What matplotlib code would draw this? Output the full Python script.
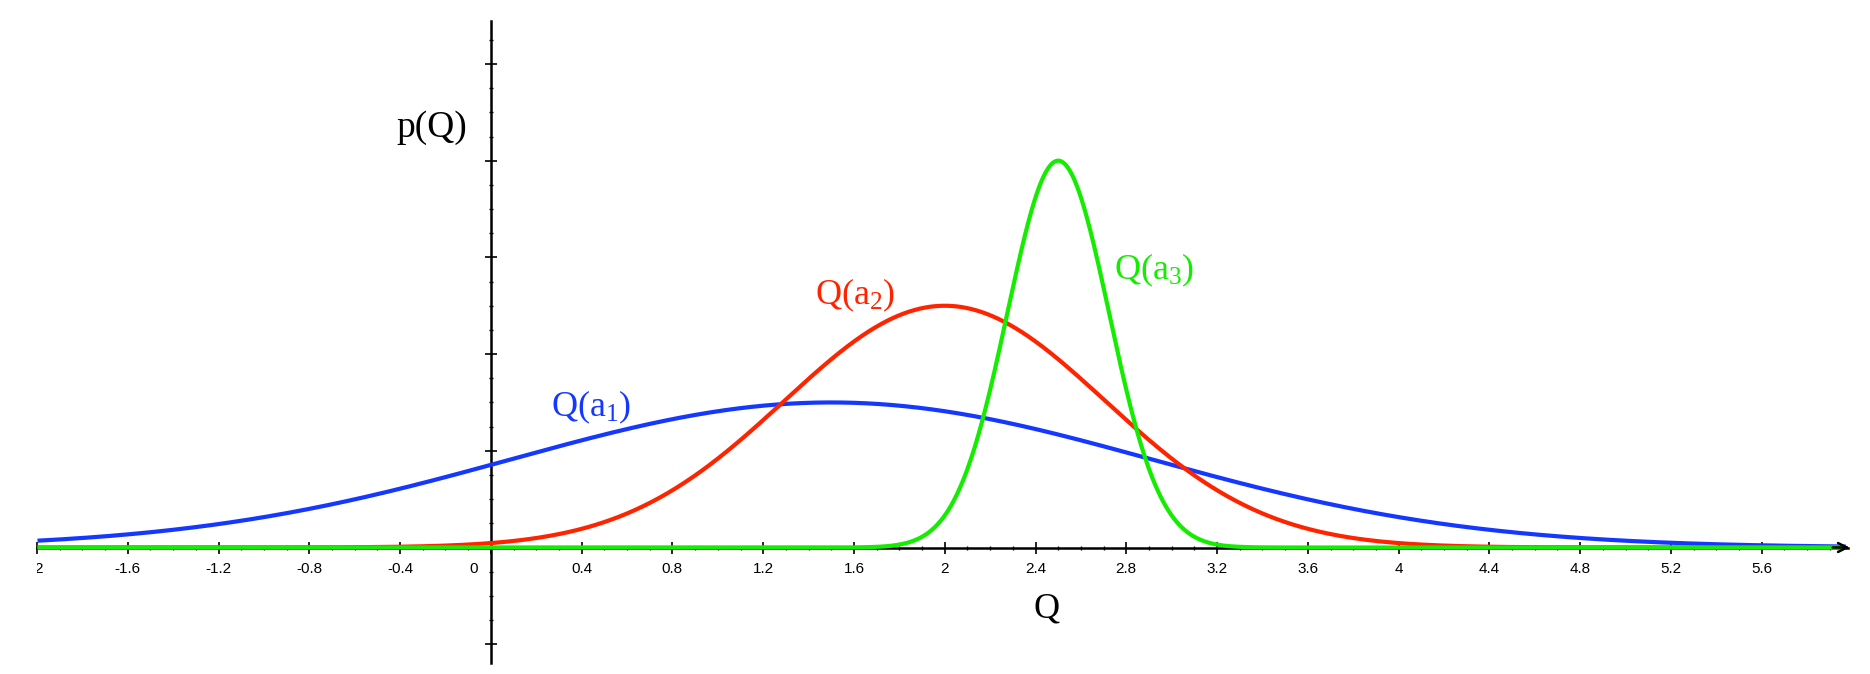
import numpy as np
import matplotlib
matplotlib.use("Agg")
import matplotlib.pyplot as plt

# Curve parameters (gaussian bumps)
curve_names = ["Q(a}_{1}\\mathrm{)", "Q(a}_{2}\\mathrm{)", "Q(a}_{3}\\mathrm{)"]
curve_means = [1.5, 2.0, 2.5]
curve_sigmas = [1.414, 0.707, 0.224]
curve_peaks = [1.5, 2.5, 4.0]
curve_colors = ["#1438ff", "#ff2400", "#14ec00"]

# label positions (data units)
label_x = [0.443, 1.606, 2.923]
label_y = [1.353, 2.518, 2.777]

x_major = np.round(np.arange(-2.0, 5.61, 0.4), 1) + 0.0
x_minor = np.round(np.arange(-2.0, 5.91, 0.1), 1)
y_major = np.arange(-1, 6, 1)
y_minor = np.arange(-1, 5.26, 0.25)

plt.rcParams['mathtext.fontset'] = 'custom'
plt.rcParams['mathtext.rm'] = 'Liberation Serif'
plt.rcParams['mathtext.it'] = 'Liberation Serif:italic'

W, H = 1870, 674
fig = plt.figure(figsize=(W / 100, H / 100), dpi=100)
left_px = 37
ax = fig.add_axes([left_px / W, 0, 1 - left_px / W, 1])

px_x = 227.0   # px per unit along x
px_y = 96.7    # px per unit along y
x0 = (left_px - 490.5) / px_x
y0 = -126.5 / px_y
ax.set_xlim(x0, x0 + (W - left_px) / px_x)
ax.set_ylim(y0, y0 + H / px_y)

xs = np.linspace(x0, 5.97, 2000)
for mu, sd, pk, col in zip(curve_means, curve_sigmas, curve_peaks, curve_colors):
    ax.plot(xs, pk * np.exp(-0.5 * ((xs - mu) / sd) ** 2), color=col, lw=3, zorder=3,
            solid_capstyle='butt')

# axes through origin
for s in ["top", "right"]:
    ax.spines[s].set_visible(False)
ax.spines["left"].set_position(("data", 0))
ax.spines["bottom"].set_position(("data", 0))
ax.spines["left"].set_bounds(-1.19, 5.44)
ax.spines["bottom"].set_bounds(x0, 5.98)
for s in ["left", "bottom"]:
    ax.spines[s].set_linewidth(1.8)
ax.annotate("", xy=(6.0, 0), xytext=(5.9, 0),
            arrowprops=dict(arrowstyle="->", lw=1.8, color="k", mutation_scale=16),
            zorder=4)

ax.set_xticks(x_major)
ax.set_xticks(x_minor, minor=True)
ax.set_yticks(y_major)
ax.set_yticks(y_minor, minor=True)
ax.tick_params(which="major", direction="inout", length=8, width=1.2,
               labelbottom=False, labelleft=False)
ax.tick_params(which="minor", direction="inout", length=3.5, width=1.0)

# x tick labels
for v in x_major:
    txt = "{:g}".format(v)
    if txt == "-0":
        txt = "0"
    xp = v - 0.077 if txt == "0" else v
    ax.text(xp, -0.147, txt, ha="center", va="top", fontsize=11,
            family="Liberation Sans", clip_on=True)

# curve labels
for name, lx, ly, col in zip(curve_names, label_x, label_y, curve_colors):
    ax.text(lx, ly, "$\\mathrm{" + name + "}$", color=col, fontsize=26,
            ha="center", va="baseline")

ax.text(-0.262, 4.245, "p(Q)", fontsize=27, family="Liberation Serif",
        ha="center", va="baseline")
ax.text(2.447, -0.719, "Q", fontsize=26, family="Liberation Serif",
        ha="center", va="baseline")

fig.savefig("out.png", dpi=100)
